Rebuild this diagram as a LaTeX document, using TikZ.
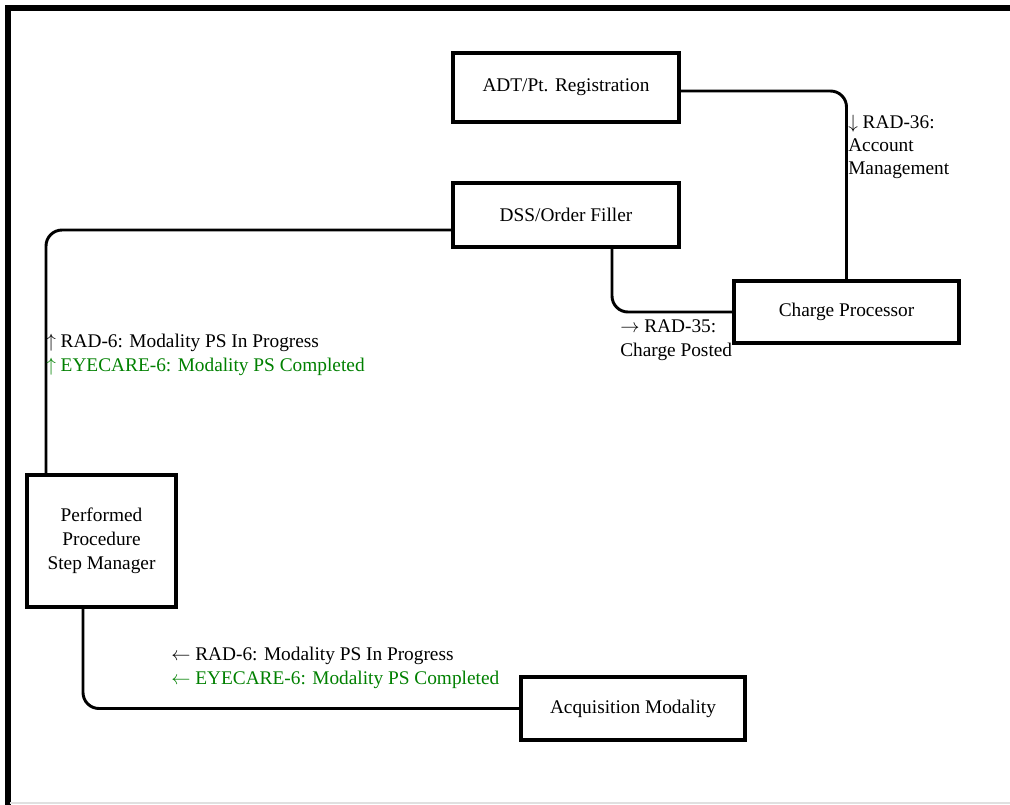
\documentclass[tikz,border=0pt]{standalone}
\usepackage{fontspec}
\setmainfont{Liberation Serif}
\definecolor{labgreen}{RGB}{0,128,0}
\begin{document}
\begin{tikzpicture}[x=0.75pt,y=-0.75pt,
  box/.style={draw, line width=3.1pt, inner sep=0pt, align=center,
    font=\fontsize{14.5}{18}\selectfont},
  conn/.style={line width=2.2pt, rounded corners=12pt},
  lab/.style={anchor=base west, inner sep=0pt, font=\fontsize{14.5}{16}\selectfont},
  glab/.style={lab, text=labgreen}]
\useasboundingbox (0,0) rectangle (1010,804);
% frame
\draw[line width=4.5pt] (8,806) -- (8,8) -- (1012,8);
\draw[black!12, line width=1pt] (10,803) -- (1010,803);
% boxes
\node[box, minimum width=169.5pt, minimum height=51.75pt] (adt) at (566,87.5) {ADT/Pt. Registration};
\node[box, minimum width=169.5pt, minimum height=48pt] (dss) at (566,215) {DSS/Order Filler};
\node[box, minimum width=168.75pt, minimum height=46.5pt] (cp) at (846.5,312) {Charge Processor};
\node[box, minimum width=111.75pt, minimum height=99pt] (pps) at (101.5,541) {Performed\\Procedure\\Step Manager};
\node[box, minimum width=168pt, minimum height=47.25pt] (acq) at (633,708.5) {Acquisition Modality};
% connectors
\draw[conn] (adt.east |- 0,91) -| (cp.north);
\draw[conn] (dss.south -| 612,0) |- (cp.west);
\draw[conn] (dss.west |- 0,230) -| (pps.north -| 46,0);
\draw[conn] (pps.south -| 83,0) |- (acq.west);
% labels
\node[lab] (l36a) at (848,128) {$\downarrow$ RAD-36:};
\node[lab] (l36b) at (848,151) {Account};
\node[lab] (l36c) at (848,174) {Management};
\node[lab] (l35a) at (620,332) {$\rightarrow$ RAD-35:};
\node[lab] (l35b) at (620,356) {Charge Posted};
\node[lab] (lupa) at (46,347) {$\uparrow$ RAD-6: Modality PS In Progress};
\node[glab] (lupb) at (46,371) {$\uparrow$ EYECARE-6: Modality PS Completed};
\node[lab] (llfa) at (171,660) {$\leftarrow$ RAD-6: Modality PS In Progress};
\node[glab] (llfb) at (171,684) {$\leftarrow$ EYECARE-6: Modality PS Completed};
\end{tikzpicture}
\end{document}
